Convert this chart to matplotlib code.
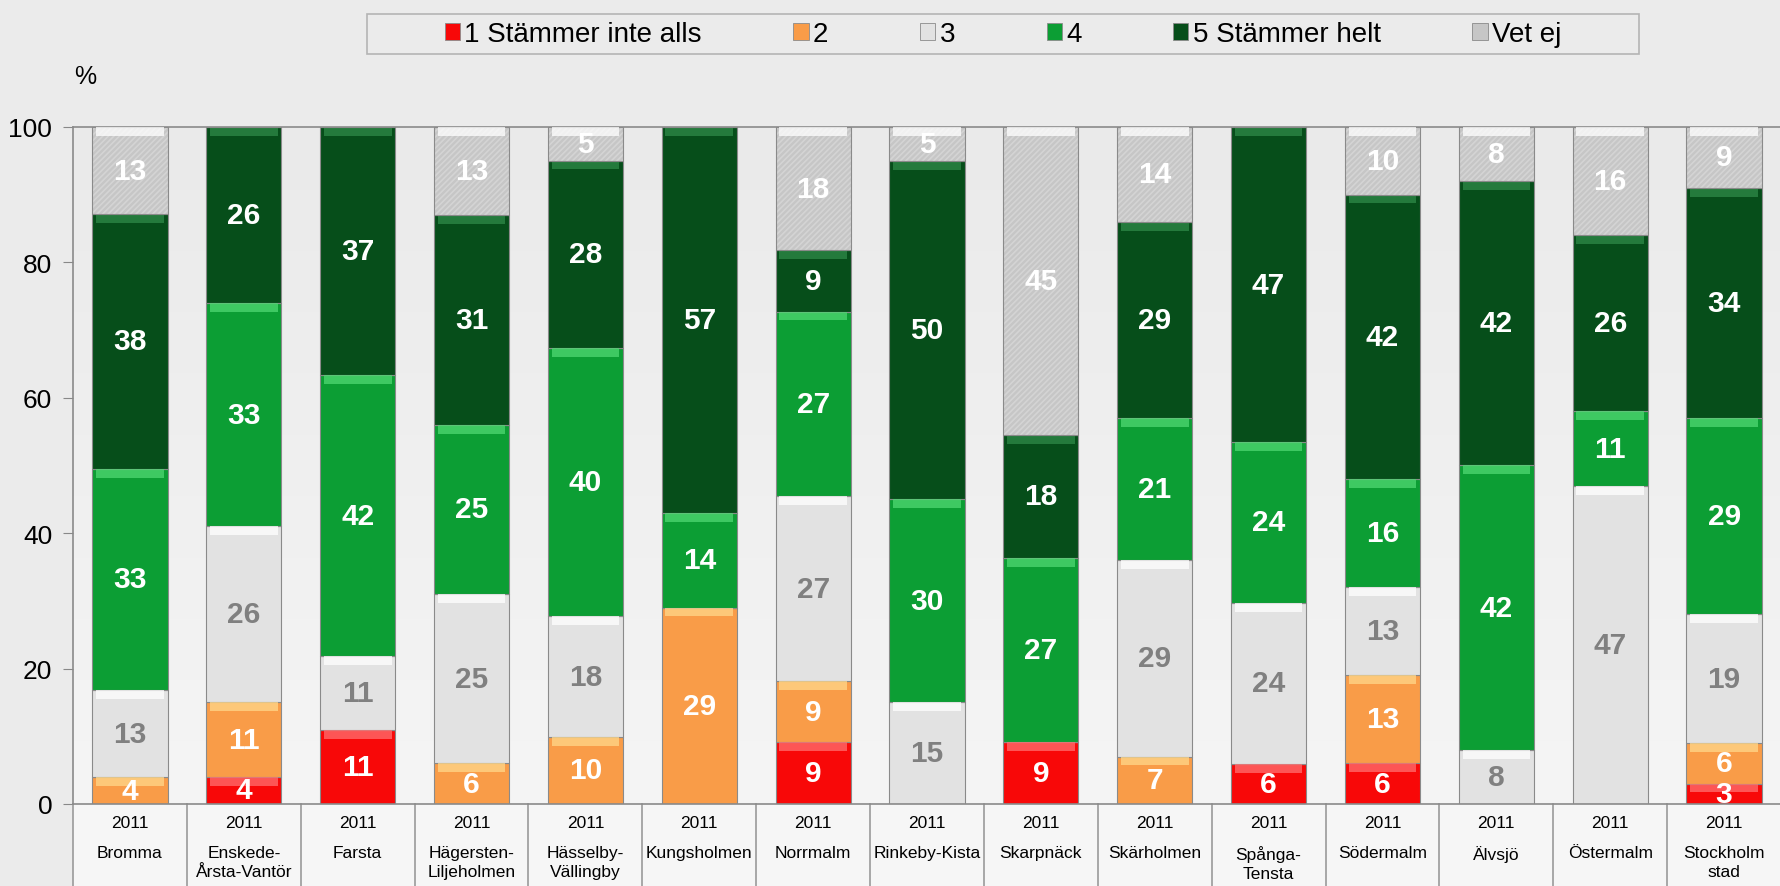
import numpy as np
import matplotlib.pyplot as plt
from matplotlib.colors import LinearSegmentedColormap
from matplotlib.transforms import blended_transform_factory

plt.rcParams["font.family"] = ["Liberation Sans", "DejaVu Sans"]
plt.rcParams["hatch.linewidth"] = 1.2

# Data (percent per answer category, 2011)
districts = ["Bromma", "Enskede-\nÅrsta-Vantör", "Farsta", "Hägersten-\nLiljeholmen",
             "Hässelby-\nVällingby", "Kungsholmen", "Norrmalm", "Rinkeby-Kista",
             "Skarpnäck", "Skärholmen", "Spånga-\nTensta", "Södermalm", "Älvsjö",
             "Östermalm", "Stockholm\nstad"]
year = "2011"
s1 = [0, 4, 11, 0, 0, 0, 9, 0, 9, 0, 6, 6, 0, 0, 3]
s2 = [4, 11, 0, 6, 10, 29, 9, 0, 0, 7, 0, 13, 0, 0, 6]
s3 = [13, 26, 11, 25, 18, 0, 27, 15, 0, 29, 24, 13, 8, 47, 19]
s4 = [33, 33, 42, 25, 40, 14, 27, 30, 27, 21, 24, 16, 42, 11, 29]
s5 = [38, 26, 37, 31, 28, 57, 9, 50, 18, 29, 47, 42, 42, 26, 34]
vet_ej = [13, 0, 0, 13, 5, 0, 18, 5, 45, 14, 0, 10, 8, 16, 9]

series_names = ["1 Stämmer inte alls", "2", "3", "4", "5 Stämmer helt", "Vet ej"]
colors = ["#F80808", "#F99C48", "#E2E2E2", "#0C9E34", "#064E1A", "#C6C6C6"]
tops = ["#FF7070", "#FFD88A", "#FFFFFF", "#4FD872", "#2F8A48", "#FFFFFF"]
label_colors = ["white", "white", "#808080", "white", "white", "white"]

data = np.array([s1, s2, s3, s4, s5, vet_ej], dtype=float)
heights = data / data.sum(axis=0) * 100  # 100 % stacked

fig = plt.figure(figsize=(17.81, 8.87), dpi=100, facecolor="#EBEBEB")
ax = fig.add_axes([0.041, 0.0925, 0.959, 0.7632])
ax.set_facecolor("#EEEEEE")

# soft vertical gradient in the plot area
grad = np.linspace(0, 1, 256).reshape(-1, 1)
ax.imshow(grad, extent=(-0.5, 14.5, 0, 100), aspect="auto", origin="lower",
          cmap=LinearSegmentedColormap.from_list("bg", ["#F5F5F5", "#EAEAEA"]),
          zorder=0)

x = np.arange(len(districts))
width = 0.66
bottom = np.zeros(len(districts))
for i in range(6):
    h = heights[i]
    kw = dict(color=colors[i], edgecolor="#8A8A8A", linewidth=0.8, zorder=2)
    if i == 5:
        kw.update(edgecolor="#D4D4D4", hatch="//////", linewidth=0)
    ax.bar(x, h, width, bottom=bottom, **kw)
    if i == 5:
        ax.bar(x, h, width, bottom=bottom, fill=False, edgecolor="#8A8A8A",
               linewidth=0.8, zorder=3)
    # bevel highlight on top of each segment
    mask = h > 0
    bh = np.minimum(1.3, h * 0.5)
    ax.bar(x[mask], bh[mask], width * 0.9, bottom=(bottom + h - bh)[mask],
           color=tops[i], alpha=0.75, linewidth=0, zorder=3)
    for xi, b, hi, v in zip(x, bottom, h, data[i]):
        if v > 0:
            ax.text(xi, b + hi / 2, f"{int(v)}", ha="center", va="center",
                    fontsize=21.5, fontweight="bold", color=label_colors[i], zorder=5)
    bottom += h

ax.set_xlim(-0.5, len(districts) - 0.5)
ax.set_ylim(0, 100)
ax.set_yticks(range(0, 101, 20))
ax.tick_params(axis="y", labelsize=19, length=7, color="#888888", pad=8)
ax.set_xticks([])
ax.spines["right"].set_visible(False)
for side in ["left", "top", "bottom"]:
    ax.spines[side].set_color("#8A8A8A")
    ax.spines[side].set_linewidth(1.2)

# category label area
trans = blended_transform_factory(ax.transData, ax.transAxes)
ax.add_patch(plt.Rectangle((0, -0.2), 1, 0.2, transform=ax.transAxes,
                           facecolor="#F6F6F6", edgecolor="none", clip_on=False,
                           zorder=0))
for b in np.arange(-0.5, len(districts), 1.0):
    ax.plot([b, b], [0, -0.14], transform=trans, color="#9A9A9A",
            linewidth=1.2, clip_on=False)
for xi, name in zip(x, districts):
    ax.text(xi, -0.027, year, transform=trans, ha="center", va="center",
            fontsize=12.5)
    ax.text(xi, -0.061, name, transform=trans, ha="center", va="top",
            fontsize=12.5, linespacing=1.3)

fig.text(0.048, 0.913, "%", fontsize=18, ha="center", va="center")

# legend with its own frame
fig.patches.append(plt.Rectangle((367 / 1781, 1 - 55 / 887), 1272 / 1781, 40 / 887,
                                 transform=fig.transFigure, facecolor="#EBEBEB",
                                 edgecolor="#B4B4B4", linewidth=1.2))
handles = [plt.Rectangle((0, 0), 1, 1, facecolor=c, edgecolor="#8A8A8A", linewidth=0.6)
           for c in colors]
fig.legend(handles, series_names, loc="center", ncol=6,
           bbox_to_anchor=(1003 / 1781, 1 - 35 / 887),
           fontsize=20, handlelength=0.55, handleheight=0.55, handletextpad=0.15,
           columnspacing=3.3, frameon=False)

fig.savefig("out.png", dpi=100, facecolor=fig.get_facecolor())
